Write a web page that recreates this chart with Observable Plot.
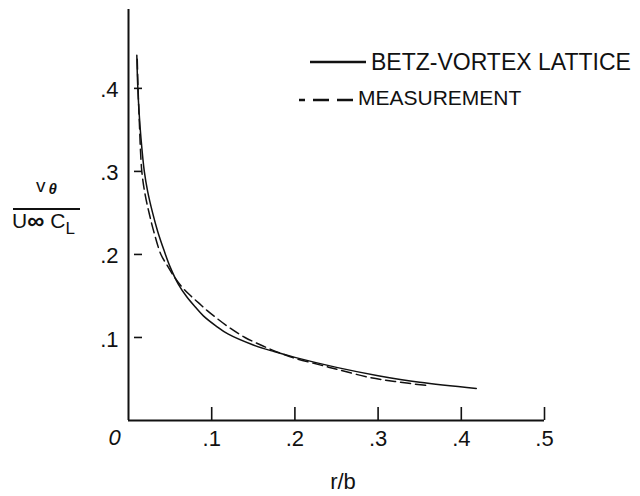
<!DOCTYPE html>
<html><head><meta charset="utf-8">
<script src="https://cdn.jsdelivr.net/npm/d3@7"></script>
<script src="https://cdn.jsdelivr.net/npm/@observablehq/plot@0.6"></script>
<style>
body{margin:0;background:#fff;}
#chart{width:640px;height:496px;}
</style>
</head><body><div id="chart"></div>
<script>
// Betz-vortex lattice (solid) — r/b vs v_theta/(U_inf C_L)
const betzR = [0.010, 0.011, 0.0128, 0.015, 0.019, 0.023, 0.029, 0.035, 0.043, 0.050, 0.060, 0.070, 0.080, 0.090, 0.105, 0.120, 0.150, 0.175, 0.200, 0.250, 0.300, 0.350, 0.418];
const betzV = [0.440, 0.405, 0.370, 0.340, 0.300, 0.276, 0.250, 0.228, 0.204, 0.185, 0.164, 0.149, 0.137, 0.126, 0.114, 0.104, 0.091, 0.083, 0.076, 0.064, 0.054, 0.046, 0.0386];
// Measurement (dashed)
const measR = [0.0105, 0.0115, 0.013, 0.016, 0.020, 0.025, 0.030, 0.039, 0.047, 0.055, 0.065, 0.075, 0.085, 0.095, 0.105, 0.121, 0.140, 0.161, 0.180, 0.200, 0.230, 0.253, 0.289, 0.320, 0.360];
const measV = [0.435, 0.400, 0.360, 0.300, 0.272, 0.249, 0.229, 0.200, 0.186, 0.173, 0.160, 0.150, 0.141, 0.132, 0.124, 0.112, 0.100, 0.090, 0.082, 0.075, 0.067, 0.061, 0.052, 0.047, 0.042];

const xTicks = [0.1, 0.2, 0.3, 0.4, 0.5];
const xTickLabels = [".1", ".2", ".3", ".4", ".5"];
const yTicks = [0.1, 0.2, 0.3, 0.4];
const yTickLabels = [".1", ".2", ".3", ".4"];
const origin = [0];
const originLabel = "0";
const seriesNames = ["BETZ-VORTEX LATTICE", "MEASUREMENT"];
const xTitle = "r/b";

const betz = betzR.map((r, i) => ({r, v: betzV[i]}));
const meas = measR.map((r, i) => ({r, v: measV[i]}));

const ink = "#111";
const font = "'Liberation Sans', Arial, sans-serif";

const svg = Plot.plot({
  width: 640, height: 496,
  marginLeft: 128, marginRight: 96, marginTop: 9, marginBottom: 76,
  x: {domain: [0, 0.5]},
  y: {domain: [0, 0.495]},
  style: {fontFamily: font, fontSize: "22px", color: ink, background: "#fff", overflow: "visible"},
  marks: [
    Plot.ruleX(origin, {stroke: ink, strokeWidth: 2}),
    Plot.ruleY(origin, {stroke: ink, strokeWidth: 2}),
    Plot.axisX(xTicks, {tickSize: -13, fill: "none", stroke: ink, strokeWidth: 1.6, label: null}),
    Plot.axisX(xTicks, {tickSize: 0, tickPadding: 10, stroke: "none", fill: ink, label: null, fontSize: 22,
      tickFormat: d => xTickLabels[xTicks.indexOf(d)]}),
    Plot.axisY(yTicks, {tickSize: -8, dx: 6, fill: "none", stroke: ink, strokeWidth: 1.6, label: null}),
    Plot.axisY(yTicks, {tickSize: 0, tickPadding: 10, dy: 2, stroke: "none", fill: ink, label: null, fontSize: 22,
      tickFormat: d => yTickLabels[yTicks.indexOf(d)]}),
    Plot.text(origin, {x: d => d, y: d => d, text: () => originLabel, dx: -14, dy: 17, fontStyle: "italic", fontSize: 22, fill: ink}),
    Plot.line(betz, {x: "r", y: "v", curve: "catmull-rom", stroke: ink, strokeWidth: 1.5}),
    Plot.line(meas, {x: "r", y: "v", curve: "catmull-rom", stroke: ink, strokeWidth: 1.5, strokeDasharray: "10,5"})
  ]
});

const s = d3.select(svg);
// x title
s.append("text").attr("x", 343).attr("y", 489).attr("text-anchor", "middle")
  .attr("font-size", 22).attr("fill", ink).text(xTitle);

// y title as fraction
const yl = s.append("g").attr("fill", ink).attr("font-family", font);
const num = yl.append("text").attr("x", 36).attr("y", 192).attr("text-anchor", "start").attr("font-size", 19);
num.append("tspan").text("v");
num.append("tspan").attr("font-size", 15).attr("font-style", "italic").attr("font-weight", "bold").attr("dy", 2).attr("dx", 3).text("θ");
yl.append("line").attr("x1", 13).attr("x2", 80).attr("y1", 209).attr("y2", 209).attr("stroke", ink).attr("stroke-width", 2);
const den = yl.append("text").attr("x", 12).attr("y", 228).attr("text-anchor", "start").attr("font-size", 21);
den.append("tspan").text("U");
den.append("tspan").attr("font-size", 24).attr("font-weight", "bold").attr("dy", 1).text("∞");
den.append("tspan").attr("dy", -1).attr("dx", 6).text("C");
den.append("tspan").attr("font-size", 17).attr("dy", 6).text("L");

// legend
const lg = s.append("g").attr("font-family", font).attr("fill", ink);
lg.append("line").attr("x1", 310).attr("x2", 366).attr("y1", 62).attr("y2", 62).attr("stroke", ink).attr("stroke-width", 2.5);
lg.append("text").attr("x", 371).attr("y", 62).attr("dy", "0.36em").attr("text-anchor", "start").attr("font-size", 23).text(seriesNames[0]);
lg.append("line").attr("x1", 299).attr("x2", 353).attr("y1", 100).attr("y2", 100).attr("stroke", ink).attr("stroke-width", 2.5).attr("stroke-dasharray", "6,8,16,8,16");
lg.append("text").attr("x", 358).attr("y", 97).attr("dy", "0.36em").attr("text-anchor", "start").attr("font-size", 21).text(seriesNames[1]);

document.getElementById("chart").appendChild(svg);
</script>
</body></html>
